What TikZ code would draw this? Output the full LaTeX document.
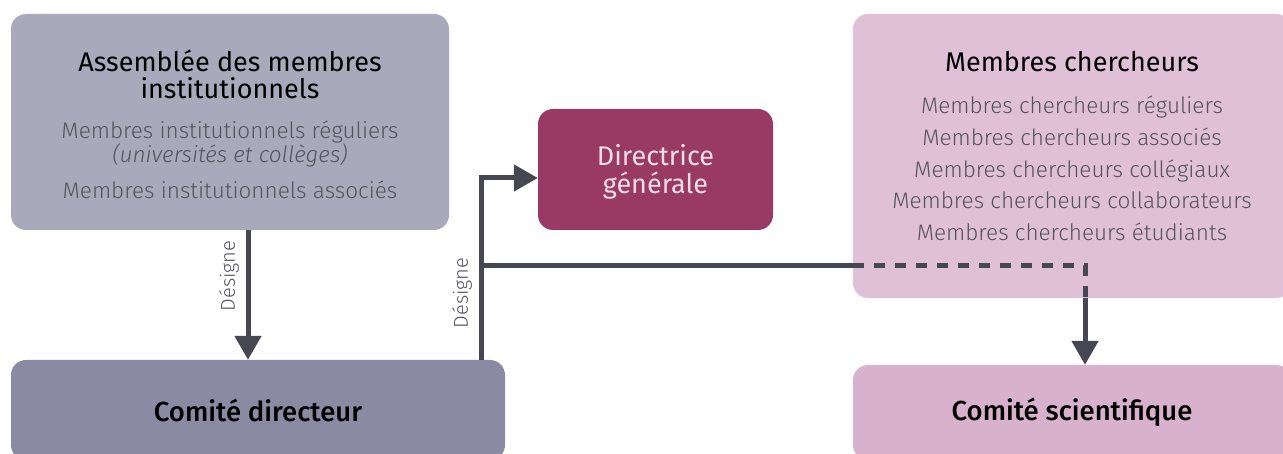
\documentclass[tikz,border=0pt]{standalone}
\usepackage{fontspec}
\setmainfont{Fira Sans}[UprightFont={* Light}, ItalicFont={* Light Italic}, BoldFont={* Medium}]
\newfontfamily\regfont{Fira Sans}
\usetikzlibrary{arrows.meta,calc}
\definecolor{asmfill}{HTML}{AAA9BB}
\definecolor{cdfill}{HTML}{8B8AA3}
\definecolor{dgfill}{HTML}{983A63}
\definecolor{dgtext}{HTML}{F2DCE8}
\definecolor{mcfill}{HTML}{E0C0D7}
\definecolor{csfill}{HTML}{D8B2CD}
\definecolor{linec}{HTML}{474752}
\definecolor{graytext}{HTML}{55535D}
\begin{document}
\begin{tikzpicture}[x=1pt,y=-1pt,
  box/.style={draw=none,rounded corners=15pt,inner sep=0pt,anchor=center},
  title/.style={font=\regfont\fontsize{27}{27}\selectfont,text=black,align=center},
  sub/.style={font=\fontsize{22.5}{25}\selectfont,text=graytext,align=center},
  bold/.style={font=\fontsize{27.5}{28}\selectfont\bfseries,text=black},
  lbl/.style={font=\fontsize{20}{22}\selectfont,text=graytext,rotate=90},
  conn/.style={draw=linec,line width=5pt},
  tip/.style={-{Triangle[width=26pt,length=24pt]}}
]
\useasboundingbox (0,0) rectangle (1283,454);
\clip (0,0) rectangle (1283,454);
% boxes
\node[box,fill=asmfill,minimum width=438pt,minimum height=216pt] (asm) at (230,122) {};
\node[box,fill=cdfill,minimum width=494pt,minimum height=100pt] (cd) at (258,410) {};
\node[box,fill=dgfill,minimum width=235pt,minimum height=121pt] (dg) at (655.5,169.5) {};
\node[box,fill=mcfill,minimum width=438pt,minimum height=284pt] (mc) at (1072,156) {};
\node[box,fill=csfill,minimum width=438pt,minimum height=95pt] (cs) at (1072,412.5) {};
% texts
\node[title] (asmt) at (230,74) {Assemblée des membres\\institutionnels};
\node[sub] (asm1) at (230,144) {Membres institutionnels réguliers\\[-1pt]\textit{(universités et collèges)}};
\node[sub] (asm2) at (230,190) {Membres institutionnels associés};
\node[bold] (cdt) at (258,410) {Comité directeur};
\node[font=\regfont\fontsize{27}{28}\selectfont,text=dgtext,align=center] (dgt) at (655.5,172) {Directrice\\générale};
\node[title] (mct) at (1072,62) {Membres chercheurs};
\node[sub,font=\fontsize{22.5}{31.7}\selectfont] (mcl) at (1072,168.5) {Membres chercheurs réguliers\\Membres chercheurs associés\\Membres chercheurs collégiaux\\Membres chercheurs collaborateurs\\Membres chercheurs étudiants};
\node[bold] (cst) at (1072,412) {Comité scientifique};
% connectors
\draw[conn,tip] ([xshift=18pt]asm.south) -- ([xshift=-10pt]cd.north);
\node[lbl] (l1) at (229,276) {Désigne};
\coordinate (base) at ([xshift=-24pt]cd.north east);
\coordinate (br) at (481,266);
\coordinate (turn) at (1085,266);
\draw[conn,tip] (base) |- ([yshift=-8.5pt]dg.west);
\draw[conn] (br) -- (br -| mc.west);
\draw[conn,dash pattern=on 11pt off 10pt] (br -| mc.west) -- (turn) -- (turn |- mc.south);
\draw[conn,tip] (turn |- mc.south) -- (turn |- cs.north);
\node[lbl] (l2) at (462,293) {Désigne};
\end{tikzpicture}
\end{document}
